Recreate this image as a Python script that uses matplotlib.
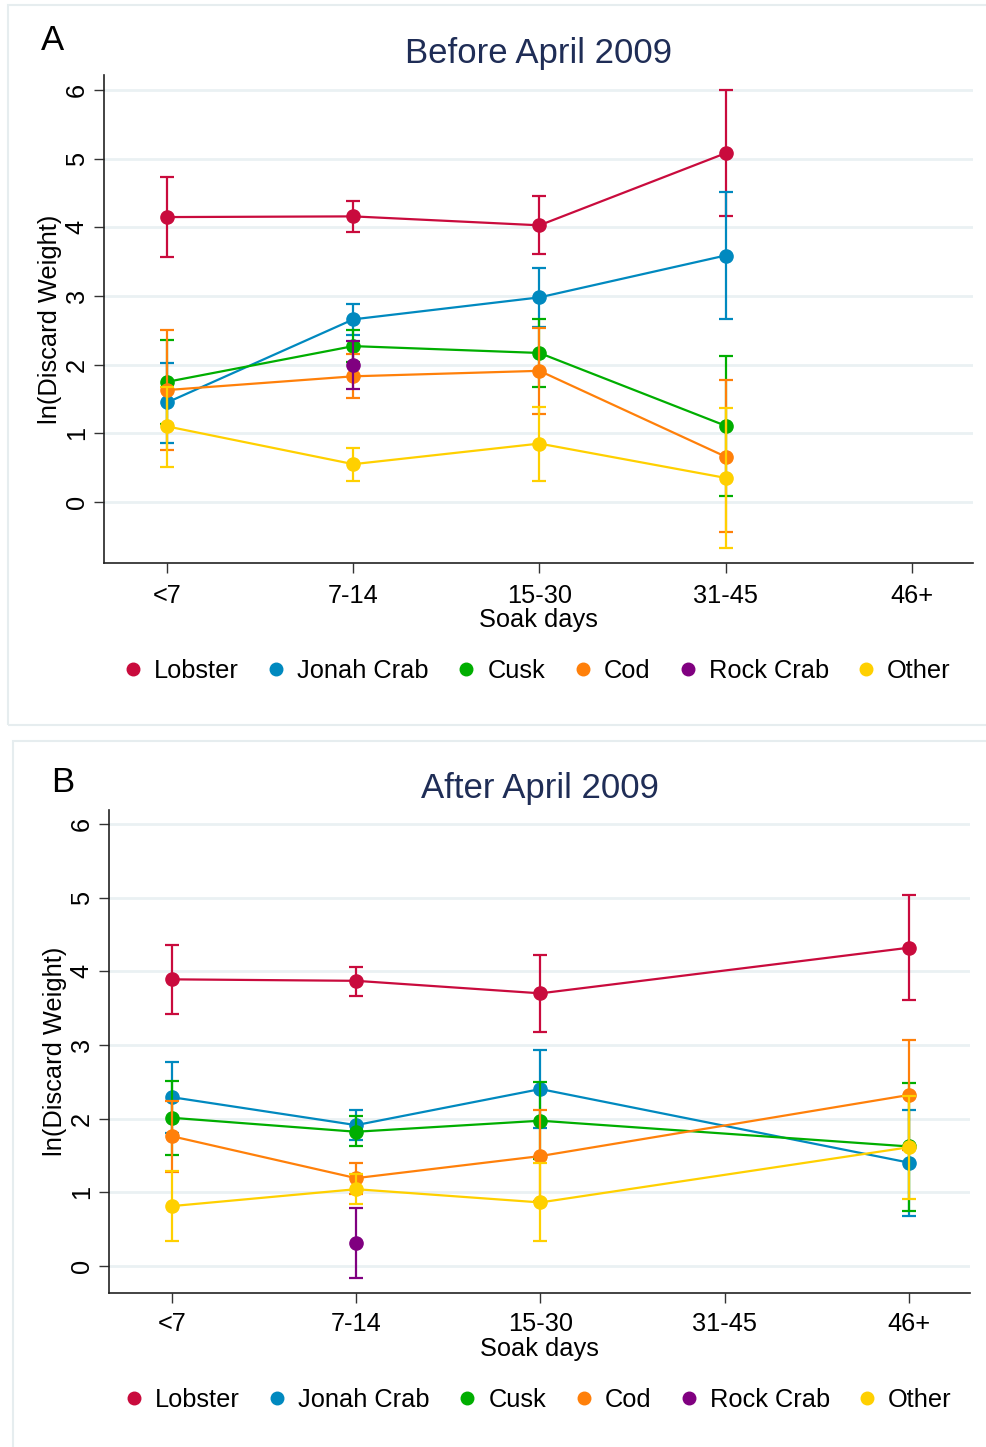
import matplotlib
matplotlib.use('Agg')
import matplotlib.pyplot as plt
import numpy as np
from matplotlib.patches import Rectangle

nan = np.nan

# soak-day categories on the x axis
soak_days = ['<7', '7-14', '15-30', '31-45', '46+']
species = ['Lobster', 'Jonah Crab', 'Cusk', 'Cod', 'Rock Crab', 'Other']

# Panel A: before April 2009 (mean, lower CI, upper CI)
lobster_a = [4.15, 4.16, 4.03, 5.08, nan]
lobster_a_lo = [3.57, 3.93, 3.61, 4.16, nan]
lobster_a_hi = [4.73, 4.39, 4.46, 6.00, nan]
jonah_a = [1.45, 2.66, 2.98, 3.59, nan]
jonah_a_lo = [0.86, 2.43, 2.55, 2.66, nan]
jonah_a_hi = [2.03, 2.88, 3.41, 4.52, nan]
cusk_a = [1.75, 2.27, 2.17, 1.11, nan]
cusk_a_lo = [1.14, 2.04, 1.68, 0.08, nan]
cusk_a_hi = [2.36, 2.50, 2.66, 2.12, nan]
cod_a = [1.63, 1.83, 1.91, 0.66, nan]
cod_a_lo = [0.76, 1.51, 1.28, -0.44, nan]
cod_a_hi = [2.51, 2.15, 2.54, 1.77, nan]
rock_a = [nan, 2.00, nan, nan, nan]
rock_a_lo = [nan, 1.65, nan, nan, nan]
rock_a_hi = [nan, 2.34, nan, nan, nan]
other_a = [1.10, 0.55, 0.85, 0.35, nan]
other_a_lo = [0.51, 0.31, 0.31, -0.67, nan]
other_a_hi = [1.68, 0.79, 1.38, 1.37, nan]

# Panel B: after April 2009
lobster_b = [3.89, 3.87, 3.70, nan, 4.32]
lobster_b_lo = [3.42, 3.67, 3.18, nan, 3.61]
lobster_b_hi = [4.36, 4.06, 4.22, nan, 5.03]
jonah_b = [2.29, 1.91, 2.40, nan, 1.40]
jonah_b_lo = [1.80, 1.71, 1.87, nan, 0.68]
jonah_b_hi = [2.77, 2.12, 2.93, nan, 2.12]
cusk_b = [2.01, 1.82, 1.97, nan, 1.62]
cusk_b_lo = [1.51, 1.62, 1.45, nan, 0.74]
cusk_b_hi = [2.51, 2.03, 2.50, nan, 2.48]
cod_b = [1.76, 1.19, 1.49, nan, 2.32]
cod_b_lo = [1.28, 0.98, 0.88, nan, 1.57]
cod_b_hi = [2.24, 1.40, 2.11, nan, 3.07]
rock_b = [nan, 0.31, nan, nan, nan]
rock_b_lo = [nan, -0.17, nan, nan, nan]
rock_b_hi = [nan, 0.79, nan, nan, nan]
other_b = [0.81, 1.04, 0.86, nan, 1.61]
other_b_lo = [0.33, 0.84, 0.33, nan, 0.91]
other_b_hi = [1.29, 1.25, 1.39, nan, 2.31]

colors = ['#C90B3D', '#0089BF', '#00AE00', '#FF800A', '#800080', '#FFD000']
title_color = '#1F2D56'
grid_color = '#EAF1F3'

plt.rcParams['font.family'] = ['Liberation Sans', 'DejaVu Sans']

FS = 18.3


def plot_panel(ax, series, title, ylim, ylab_x, xlab_y, xpad):
    """Draw one panel of means with confidence intervals"""
    x_all = np.arange(len(soak_days))
    for i, (name, (mean, lo, hi)) in enumerate(zip(species, series)):
        mean = np.array(mean, dtype=float)
        lo = np.array(lo, dtype=float)
        hi = np.array(hi, dtype=float)
        ok = ~np.isnan(mean)
        x = x_all[ok]
        m = mean[ok]
        yerr = np.vstack([m - lo[ok], hi[ok] - m])
        ax.errorbar(x, m, yerr=yerr, fmt='none', ecolor=colors[i],
                    elinewidth=1.6, capsize=5, capthick=1.6, zorder=3 + i)
        ax.plot(x, m, color=colors[i], linewidth=1.6, marker='o',
                markersize=9.5, label=name, zorder=3 + i)

    ax.set_xlim(-0.34, 4.33)
    ax.set_ylim(*ylim)
    ax.set_xticks(x_all)
    ax.set_xticklabels(soak_days, fontsize=FS)
    ax.set_yticks(range(0, 7))
    ax.set_yticklabels([str(v) for v in range(0, 7)], fontsize=FS,
                       rotation=90, va='center')
    ax.tick_params(axis='both', length=7, width=1.0, color='#333333')
    ax.tick_params(axis='x', pad=xpad)
    ax.tick_params(axis='y', pad=4)
    ax.yaxis.grid(True, color=grid_color, linewidth=2)
    ax.set_axisbelow(True)
    for side in ['top', 'right']:
        ax.spines[side].set_visible(False)
    for side in ['left', 'bottom']:
        ax.spines[side].set_color('#222222')
        ax.spines[side].set_linewidth(1.2)
    ax.set_xlabel('Soak days', fontsize=FS, va='center')
    ax.xaxis.set_label_coords(0.5, xlab_y)
    ax.set_ylabel('ln(Discard Weight)', fontsize=FS, va='center')
    ax.yaxis.set_label_coords(ylab_x, 0.5)
    ax.set_title(title, fontsize=25, color=title_color, pad=8.7)
    leg = ax.legend(loc='upper center', bbox_to_anchor=(0.5, -0.15), ncol=6,
                    frameon=False, fontsize=FS, handlelength=0.55,
                    handletextpad=0.55, columnspacing=1.2, markerscale=0.95)
    for line in leg.get_lines():
        line.set_linestyle('none')


fig = plt.figure(figsize=(9.87, 14.47), dpi=100)

# light panel frames
fig.patches.append(Rectangle((8 / 987, 1 - 725 / 1447), 990 / 987, 720 / 1447,
                             transform=fig.transFigure, fill=False,
                             edgecolor='#E6EDEF', linewidth=1.5))
fig.patches.append(Rectangle((13 / 987, 1 - 1460 / 1447), 990 / 987, 719 / 1447,
                             transform=fig.transFigure, fill=False,
                             edgecolor='#E6EDEF', linewidth=1.5))

ax_a = fig.add_axes([104 / 987, 1 - 563 / 1447, 869 / 987, 488 / 1447])
plot_panel(ax_a, [(lobster_a, lobster_a_lo, lobster_a_hi),
                  (jonah_a, jonah_a_lo, jonah_a_hi),
                  (cusk_a, cusk_a_lo, cusk_a_hi),
                  (cod_a, cod_a_lo, cod_a_hi),
                  (rock_a, rock_a_lo, rock_a_hi),
                  (other_a, other_a_lo, other_a_hi)],
           'Before April 2009', (-0.89, 6.22), -0.062, -0.117, 8)

ax_b = fig.add_axes([109 / 987, 1 - 1293 / 1447, 861 / 987, 483 / 1447])
plot_panel(ax_b, [(lobster_b, lobster_b_lo, lobster_b_hi),
                  (jonah_b, jonah_b_lo, jonah_b_hi),
                  (cusk_b, cusk_b_lo, cusk_b_hi),
                  (cod_b, cod_b_lo, cod_b_hi),
                  (rock_b, rock_b_lo, rock_b_hi),
                  (other_b, other_b_lo, other_b_hi)],
           'After April 2009', (-0.37, 6.19), -0.063, -0.115, 6.5)

fig.text(53 / 987, 1 - 40 / 1447, 'A', fontsize=25, ha='center', va='center')
fig.text(63 / 987, 1 - 782 / 1447, 'B', fontsize=25, ha='center', va='center')

fig.savefig('out.png', dpi=100)
